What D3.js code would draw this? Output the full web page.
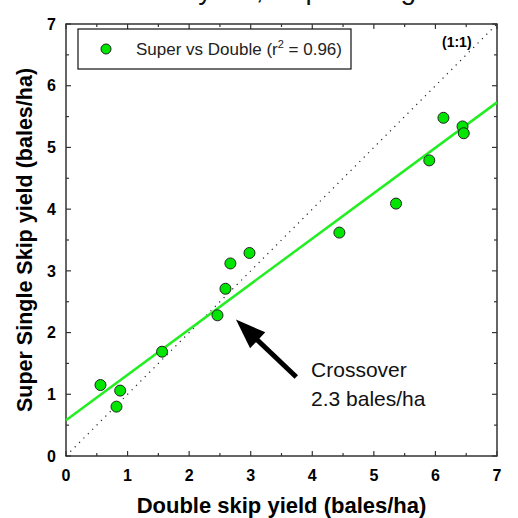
<!DOCTYPE html>
<html>
<head>
<meta charset="utf-8">
<script src="https://cdn.jsdelivr.net/npm/d3@7"></script>
<style>
  body { margin: 0; background: #fff; }
  text { font-family: "Liberation Sans", Arial, sans-serif; }
</style>
</head>
<body>
<div id="chart"></div>
<script>
// Double skip (x) vs Super Single skip (y) yields, bales/ha
const doubleSkip = [0.56, 0.88, 0.82, 1.56, 2.46, 2.59, 2.67, 2.98, 4.44, 5.36, 5.90, 6.13, 6.44, 6.46];
const superSingle = [1.15, 1.06, 0.80, 1.69, 2.28, 2.71, 3.12, 3.29, 3.62, 4.09, 4.79, 5.48, 5.34, 5.23];
// regression line end points
const fitX = [0, 7];
const fitY = [0.58, 5.73];
// 1:1 line
const oneX = [0, 7];
const oneY = [0, 7];
const majorTicks = [0, 1, 2, 3, 4, 5, 6, 7];
const minorTicks = [0.5, 1.5, 2.5, 3.5, 4.5, 5.5, 6.5];
// arrow annotation (data units): tail -> tip
const arrowFrom = [3.74, 1.28];
const arrowTo = [2.76, 2.21];
const noteLines = ['Crossover', '2.3 bales/ha'];

const W = 518, H = 518;
const margin = { top: 24, right: 21, bottom: 62, left: 66 };
const width = W - margin.left - margin.right;
const height = H - margin.top - margin.bottom;

const root = d3.select('#chart').append('svg')
  .attr('width', W)
  .attr('height', H);

// title, cut off at the top edge as in the original
root.append('text')
  .attr('x', 262)
  .attr('y', -1)
  .attr('text-anchor', 'middle')
  .style('font-size', '28px')
  .style('fill', '#111')
  .text('Cotton yield, skip sowing');

const svg = root.append('g')
  .attr('transform', 'translate(' + margin.left + ',' + margin.top + ')');

const x = d3.scaleLinear().domain([0, 7]).range([0, width]);
const y = d3.scaleLinear().domain([0, 7]).range([height, 0]);

// frame
svg.append('rect')
  .attr('width', width)
  .attr('height', height)
  .attr('fill', 'none')
  .attr('stroke', '#333')
  .attr('stroke-width', 1.5);

// inward ticks on all four sides
const tickG = svg.append('g').attr('stroke', '#333').attr('stroke-width', 1.2);
const allTicks = majorTicks.map(v => [v, 5]).concat(minorTicks.map(v => [v, 3]));
allTicks.forEach(([v, len]) => {
  tickG.append('line').attr('x1', x(v)).attr('x2', x(v)).attr('y1', height).attr('y2', height - len);
  tickG.append('line').attr('x1', x(v)).attr('x2', x(v)).attr('y1', 0).attr('y2', len);
  tickG.append('line').attr('x1', 0).attr('x2', len).attr('y1', y(v)).attr('y2', y(v));
  tickG.append('line').attr('x1', width).attr('x2', width - len).attr('y1', y(v)).attr('y2', y(v));
});

// tick labels
svg.append('g').selectAll('text')
  .data(majorTicks)
  .enter().append('text')
  .attr('x', d => x(d))
  .attr('y', height + 25)
  .attr('text-anchor', 'middle')
  .style('font-size', '16px')
  .style('font-weight', 'bold')
  .text(d => d);

svg.append('g').selectAll('text')
  .data(majorTicks)
  .enter().append('text')
  .attr('x', -10)
  .attr('y', d => y(d))
  .attr('dy', '0.36em')
  .attr('text-anchor', 'end')
  .style('font-size', '16px')
  .style('font-weight', 'bold')
  .text(d => d);

// axis titles
svg.append('text')
  .attr('x', width / 2)
  .attr('y', height + 57)
  .attr('text-anchor', 'middle')
  .style('font-size', '22px')
  .style('font-weight', 'bold')
  .text('Double skip yield (bales/ha)');

svg.append('text')
  .attr('transform', 'rotate(-90)')
  .attr('x', -height / 2)
  .attr('y', -34)
  .attr('text-anchor', 'middle')
  .style('font-size', '21.5px')
  .style('font-weight', 'bold')
  .text('Super Single Skip yield (bales/ha)');

const line = d3.line().x(d => x(d[0])).y(d => y(d[1]));

// 1:1 dotted line
svg.append('path')
  .datum(oneX.map((v, i) => [v, oneY[i]]))
  .attr('d', line)
  .attr('fill', 'none')
  .attr('stroke', '#222')
  .attr('stroke-width', 1.2)
  .attr('stroke-dasharray', '1.2,5');

svg.append('text')
  .attr('x', 376)
  .attr('y', 23)
  .style('font-size', '14px')
  .style('font-weight', 'bold')
  .text('(1:1)');

// regression line
svg.append('path')
  .datum(fitX.map((v, i) => [v, fitY[i]]))
  .attr('d', line)
  .attr('fill', 'none')
  .attr('stroke', '#22ee22')
  .attr('stroke-width', 2.5);

// points
svg.append('g')
  .selectAll('circle')
  .data(doubleSkip.map((v, i) => [v, superSingle[i]]))
  .enter()
  .append('circle')
  .attr('cx', d => x(d[0]))
  .attr('cy', d => y(d[1]))
  .attr('r', 5.5)
  .style('fill', '#00e600')
  .style('stroke', '#222')
  .style('stroke-width', 1);

// legend
const leg = svg.append('g').attr('transform', 'translate(12,5)');
leg.append('rect')
  .attr('width', 273)
  .attr('height', 40)
  .attr('fill', '#fff')
  .attr('stroke', '#111')
  .attr('stroke-width', 1.2);
leg.append('circle')
  .attr('cx', 28)
  .attr('cy', 20)
  .attr('r', 5)
  .style('fill', '#00e600')
  .style('stroke', '#222');
const lt = leg.append('text')
  .attr('x', 58)
  .attr('y', 26)
  .style('font-size', '17px')
  .style('fill', '#222');
lt.append('tspan').text('Super vs Double (r');
lt.append('tspan').attr('dy', -7).style('font-size', '11px').text('2');
lt.append('tspan').attr('dy', 7).text(' = 0.96)');

// arrow annotation
const tx = x(arrowTo[0]), ty = y(arrowTo[1]);
const fx = x(arrowFrom[0]), fy = y(arrowFrom[1]);
const ang = Math.atan2(ty - fy, tx - fx);
const headLen = 30, headW = 11;
const bx = tx - headLen * Math.cos(ang), by = ty - headLen * Math.sin(ang);
svg.append('line')
  .attr('x1', fx).attr('y1', fy)
  .attr('x2', bx + 4 * Math.cos(ang)).attr('y2', by + 4 * Math.sin(ang))
  .attr('stroke', '#000')
  .attr('stroke-width', 5);
svg.append('path')
  .attr('d', 'M' + tx + ',' + ty +
    'L' + (bx + headW * Math.sin(ang)) + ',' + (by - headW * Math.cos(ang)) +
    'L' + (bx - headW * Math.sin(ang)) + ',' + (by + headW * Math.cos(ang)) + 'Z')
  .attr('fill', '#000');

svg.append('g').selectAll('text')
  .data(noteLines)
  .enter().append('text')
  .attr('x', x(3.98))
  .attr('y', (d, i) => y(1.28) + i * 29)
  .style('font-size', '21px')
  .style('fill', '#111')
  .text(d => d);
</script>
</body>
</html>
